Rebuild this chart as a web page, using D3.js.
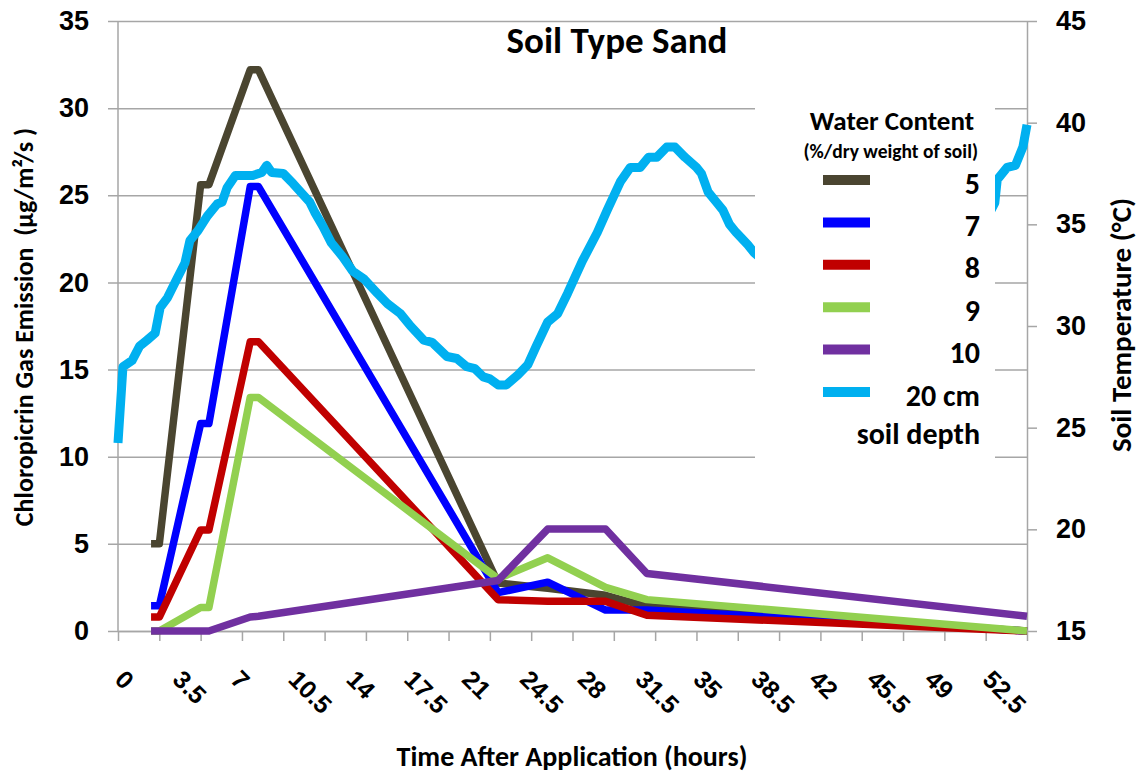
<!DOCTYPE html>
<html>
<head>
<meta charset="utf-8">
<script src="https://cdn.jsdelivr.net/npm/d3@7"></script>
<style>
  body { margin: 0; background: #fff; }
  svg { font-family: Carlito, Calibri, Lato, sans-serif; font-weight: bold; }
  text { white-space: pre; }
</style>
</head>
<body>
<div id="chart"></div>
<script>
// ---- data ----
// emission sampling times (hours) shared by the water content series
const sampleHours = [2, 2.5, 5, 5.5, 8, 8.5, 23, 26, 29.5, 32, 55];
const wc5  = [5.0, 5.0, 25.6, 25.6, 32.2, 32.2, 2.75, 2.45, 2.05, 1.4, 0];
const wc7  = [1.45, 1.45, 11.9, 11.9, 25.5, 25.5, 2.2, 2.8, 1.2, 1.2, 0];
const wc8  = [0.8, 0.8, 5.8, 5.8, 16.6, 16.6, 1.8, 1.7, 1.7, 0.9, 0];
const wc9  = [0, 0, 1.35, 1.35, 13.4, 13.4, 3.0, 4.2, 2.5, 1.8, 0];
const wc10 = [0, 0, 0, 0, 0.8, 0.85, 2.9, 5.85, 5.85, 3.3, 0.85];

// soil temperature at 20 cm (right axis)
const tempHours = [0, 0.3, 0.85, 1.3, 1.75, 2.25, 2.55, 3, 3.55, 4.05, 4.35, 4.85, 5.4, 6, 6.3, 6.6, 7.1,
  8.15, 8.7, 9, 9.3, 10, 10.6, 11.6, 11.9, 12.4, 12.9, 13.6, 14.2, 14.9, 15.7, 16.3, 17.1, 17.7,
  18.5, 19, 19.9, 20.5, 21.1, 21.6, 22.1, 22.5, 23, 23.5, 24.2, 24.8, 25.3, 26, 26.6, 27.2, 28.1,
  29, 29.6, 30.4, 31, 31.6, 32.1, 32.6, 33.2, 33.7, 34.3, 35, 35.3, 35.7, 36.2, 36.6, 37, 37.4,
  38.1, 38.5, 39.5, 41, 42.5, 44, 45.5, 47, 48, 49.5, 51, 52, 53.05, 53.2, 53.8, 54.3, 54.75, 55];
const tempValues = [24.25, 28.0, 28.3, 29.0, 29.3, 29.65, 30.9, 31.4, 32.3, 33.1, 34.2, 34.7, 35.4, 36.0, 36.1, 36.8, 37.4,
  37.4, 37.55, 37.9, 37.55, 37.5, 37.0, 36.1, 35.6, 34.9, 34.1, 33.4, 32.7, 32.3, 31.6, 31.1, 30.6, 30.0,
  29.3, 29.2, 28.5, 28.4, 28.0, 27.9, 27.5, 27.4, 27.1, 27.1, 27.6, 28.1, 29.0, 30.2, 30.6, 31.6, 33.2,
  34.6, 35.7, 37.1, 37.8, 37.8, 38.3, 38.3, 38.8, 38.8, 38.3, 37.8, 37.5, 36.6, 36.1, 35.7, 35.0, 34.6,
  34.0, 33.6, 32.9, 31.8, 30.8, 29.9, 29.1, 28.7, 29.0, 30.5, 32.6, 34.4, 36.05, 37.2, 37.8, 37.9, 38.8, 39.9];

const seriesNames  = ["5", "7", "8", "9", "10", "20 cm"];
const seriesColors = ["#4a4530", "#0000ff", "#c00000", "#92d050", "#7030a0", "#00b0f0"];

const leftTicks  = [0, 5, 10, 15, 20, 25, 30, 35];
const rightTicks = [15, 20, 25, 30, 35, 40, 45];
const xTickHours = [0, 2.5, 5, 7.5, 10, 12.5, 15, 17.5, 20, 22.5, 25, 27.5, 30, 32.5, 35, 37.5, 40, 42.5, 45, 47.5, 50, 52.5, 55];
const xLabelHours = [0, 3.5, 7, 10.5, 14, 17.5, 21, 24.5, 28, 31.5, 35, 38.5, 42, 45.5, 49, 52.5];

// ---- layout ----
const W = 1144, H = 776;
const plot = { left: 118, right: 1027, top: 21, bottom: 631 };
const gridColor = "#a6a6a6";

const x  = d3.scaleLinear().domain([0, 55]).range([plot.left, plot.right]);
const yL = d3.scaleLinear().domain([0, 35]).range([plot.bottom, plot.top]);
const yR = d3.scaleLinear().domain([15, 45]).range([plot.bottom, plot.top]);

const svg = d3.select("#chart").append("svg")
    .attr("width", W)
    .attr("height", H);

// horizontal gridlines (with the little outside ticks on the left)
svg.append("g")
    .attr("transform", `translate(${plot.left - 10},0)`)
    .call(d3.axisLeft(yL).tickValues(leftTicks).tickSize(-(plot.right - plot.left + 10)).tickFormat(""))
    .call(g => g.select(".domain").remove())
    .call(g => g.selectAll("line").attr("stroke", gridColor).attr("stroke-width", 1.5));

// left tick labels
svg.append("g")
    .attr("transform", `translate(${plot.left},0)`)
    .call(d3.axisLeft(yL).tickValues(leftTicks).tickSize(0).tickPadding(29))
    .call(g => g.select(".domain").remove())
    .call(g => g.selectAll("text").attr("font-size", 27).attr("font-family", null).attr("fill", "#000"));

// left axis line
svg.append("line")
    .attr("x1", plot.left).attr("x2", plot.left)
    .attr("y1", plot.top).attr("y2", plot.bottom)
    .attr("stroke", gridColor).attr("stroke-width", 1.5);

// bottom axis: line and tick marks
svg.append("g")
    .attr("transform", `translate(0,${plot.bottom})`)
    .call(d3.axisBottom(x).tickValues(xTickHours).tickSize(10).tickSizeOuter(0).tickFormat(""))
    .call(g => g.selectAll("line, path").attr("stroke", gridColor).attr("stroke-width", 1.5));

// bottom axis: rotated labels
svg.append("g")
    .attr("transform", `translate(0,${plot.bottom})`)
    .call(d3.axisBottom(x).tickValues(xLabelHours).tickSize(0).tickFormat(d => d))
    .call(g => g.select(".domain").remove())
    .call(g => g.selectAll("text")
        .attr("font-family", null)
        .attr("font-size", 25)
        .attr("fill", "#000")
        .attr("y", 0).attr("dy", 0)
        .attr("text-anchor", "start")
        .attr("transform", "translate(-5,50) rotate(45)"));

// right axis
svg.append("g")
    .attr("transform", `translate(${plot.right},0)`)
    .call(d3.axisRight(yR).tickValues(rightTicks).tickSize(10).tickSizeOuter(0).tickPadding(19))
    .call(g => g.selectAll("line, path").attr("stroke", gridColor).attr("stroke-width", 1.5))
    .call(g => g.selectAll("text").attr("font-size", 27).attr("font-family", null).attr("fill", "#000"));

// ---- series ----
const emission = [wc5, wc7, wc8, wc9, wc10].map((vals, i) => ({
    name: seriesNames[i],
    color: seriesColors[i],
    points: sampleHours.map((h, j) => ({ h: h, v: vals[j] }))
}));
const temperature = tempHours.map((h, j) => ({ h: h, v: tempValues[j] }));

const lineL = d3.line().x(d => x(d.h)).y(d => yL(d.v));
const lineR = d3.line().x(d => x(d.h)).y(d => yR(d.v));

svg.append("g").selectAll("path")
    .data(emission)
    .join("path")
    .attr("d", d => lineL(d.points))
    .attr("fill", "none")
    .attr("stroke", d => d.color)
    .attr("stroke-width", 7.5)
    .attr("stroke-linejoin", "round");

svg.append("path")
    .attr("d", lineR(temperature))
    .attr("fill", "none")
    .attr("stroke", seriesColors[5])
    .attr("stroke-width", 9)
    .attr("stroke-linejoin", "round");

// ---- legend ----
const legend = svg.append("g");
legend.append("rect")
    .attr("x", 755).attr("y", 100)
    .attr("width", 240).attr("height", 370)
    .attr("fill", "#fff");
legend.append("text")
    .attr("x", 974).attr("y", 130)
    .attr("text-anchor", "end")
    .attr("font-size", 27)
    .text("Water Content");
legend.append("text")
    .attr("x", 978).attr("y", 158)
    .attr("text-anchor", "end")
    .attr("font-size", 19.5)
    .text("(%/dry weight of soil)");

const rowY = d3.scalePoint().domain(seriesNames).range([180, 392]);
const rows = legend.selectAll("g.row")
    .data(seriesNames.map((n, i) => ({ name: n, color: seriesColors[i] })))
    .join("g")
    .attr("class", "row")
    .attr("transform", d => `translate(0,${rowY(d.name)})`);
rows.append("line")
    .attr("x1", 823).attr("x2", 870)
    .attr("stroke", d => d.color)
    .attr("stroke-width", 10);
rows.append("text")
    .attr("x", 980).attr("y", 3)
    .attr("dy", "0.35em")
    .attr("text-anchor", "end")
    .attr("font-size", 30)
    .text(d => d.name);
legend.append("text")
    .attr("x", 980).attr("y", 444)
    .attr("text-anchor", "end")
    .attr("font-size", 30)
    .text("soil depth");

// ---- titles ----
svg.append("text")
    .attr("x", 617).attr("y", 53)
    .attr("text-anchor", "middle")
    .attr("font-size", 37)
    .text("Soil Type Sand");

svg.append("text")
    .attr("transform", "translate(33,327) rotate(-90)")
    .attr("text-anchor", "middle")
    .attr("font-size", 26)
    .text("Chloropicrin Gas Emission  (µg/m²/s )");

svg.append("text")
    .attr("transform", "translate(1131,325) rotate(-90)")
    .attr("text-anchor", "middle")
    .attr("font-size", 29)
    .text("Soil Temperature (°C)");

svg.append("text")
    .attr("x", 572).attr("y", 766)
    .attr("text-anchor", "middle")
    .attr("font-size", 28)
    .text("Time After Application (hours)");
</script>
</body>
</html>
